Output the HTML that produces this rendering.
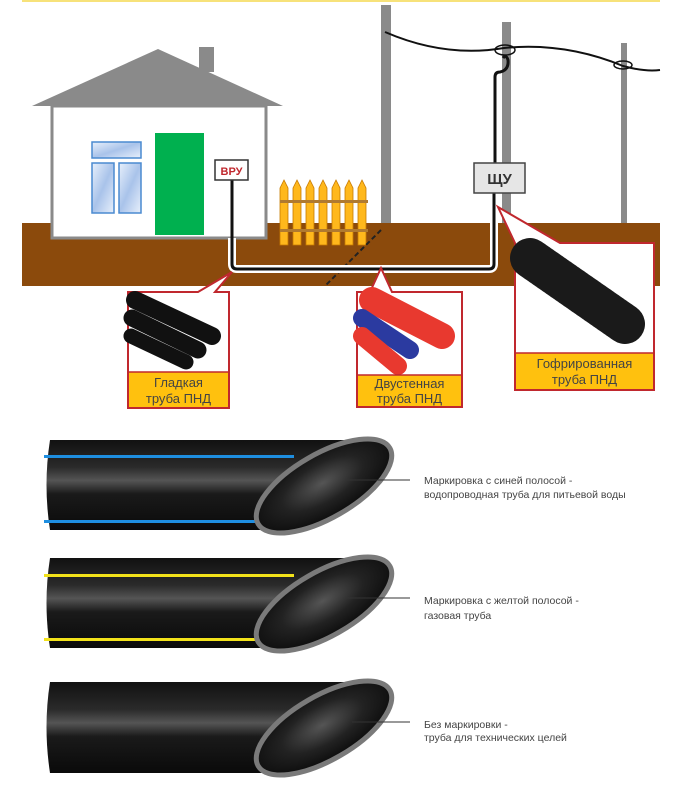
<!DOCTYPE html>
<html><head><meta charset="utf-8"><style>
html,body{margin:0;padding:0;background:#fff;width:676px;height:786px;overflow:hidden}
svg{display:block}
.lbl{font-family:"Liberation Sans","DejaVu Sans",sans-serif;font-size:13px;fill:#444;text-anchor:middle}
.t{font-family:"Liberation Sans","DejaVu Sans",sans-serif;font-size:10.5px;fill:#444}
</style></head><body>
<svg width="676" height="786" viewBox="0 0 676 786" xmlns="http://www.w3.org/2000/svg">
<defs>
<linearGradient id="pg" x1="0" y1="0" x2="0" y2="1">
<stop offset="0" stop-color="#111"/><stop offset="0.3" stop-color="#2a2a2a"/><stop offset="0.45" stop-color="#555"/><stop offset="0.6" stop-color="#1a1a1a"/><stop offset="1" stop-color="#0a0a0a"/>
</linearGradient>
<radialGradient id="ig" cx="0.5" cy="0.45" r="0.6">
<stop offset="0" stop-color="#555"/><stop offset="0.5" stop-color="#222"/><stop offset="1" stop-color="#080808"/>
</radialGradient>
<linearGradient id="wg" x1="0" y1="0" x2="1" y2="1"><stop offset="0" stop-color="#e8f0fb"/><stop offset=".5" stop-color="#a9c3ea"/><stop offset="1" stop-color="#e8f0fb"/></linearGradient>
</defs>
<rect x="22" y="0" width="638" height="2" fill="#f7e27a"/>
<!-- poles -->
<rect x="381" y="5" width="10" height="246" fill="#8a8a8a"/>
<rect x="502" y="22" width="9" height="202" fill="#8a8a8a"/>
<rect x="621" y="43" width="6" height="181" fill="#8a8a8a"/>
<path d="M385 32 Q445 58 504 48 Q565 42 623 66 Q645 72 660 70" fill="none" stroke="#111" stroke-width="2"/>
<ellipse cx="505" cy="50" rx="10" ry="5" fill="none" stroke="#111" stroke-width="1.5"/>
<ellipse cx="623" cy="65" rx="9" ry="4" fill="none" stroke="#111" stroke-width="1.5"/>
<!-- ground -->
<rect x="22" y="223" width="638" height="63" fill="#8b4a0c"/>
<!-- house -->
<rect x="52" y="106" width="214" height="132" fill="#fff" stroke="#8a8a8a" stroke-width="3"/>
<rect x="199" y="47" width="15" height="25" fill="#8a8a8a"/>
<polygon points="158,49 32,106 283,106" fill="#8a8a8a"/>
<rect x="92" y="142" width="49" height="16" fill="url(#wg)" stroke="#4a8ad0" stroke-width="1.5"/>
<rect x="92" y="163" width="22" height="50" fill="url(#wg)" stroke="#4a8ad0" stroke-width="1.5"/>
<rect x="119" y="163" width="22" height="50" fill="url(#wg)" stroke="#4a8ad0" stroke-width="1.5"/>
<rect x="155" y="133" width="49" height="102" fill="#00b04f"/>
<!-- fence -->
<g fill="#ffb81c" stroke="#c87a00" stroke-width="0.8">
<path d="M280 188 l4 -8 l4 8 v57 h-8z"/><path d="M293 188 l4 -8 l4 8 v57 h-8z"/><path d="M306 188 l4 -8 l4 8 v57 h-8z"/><path d="M319 188 l4 -8 l4 8 v57 h-8z"/><path d="M332 188 l4 -8 l4 8 v57 h-8z"/><path d="M345 188 l4 -8 l4 8 v57 h-8z"/><path d="M358 188 l4 -8 l4 8 v57 h-8z"/>
</g>
<rect x="280" y="200" width="88" height="3" fill="#b07a30"/><rect x="280" y="229" width="88" height="3" fill="#b07a30"/>
<!-- dashed -->
<line x1="381" y1="230" x2="325" y2="286" stroke="#222" stroke-width="2" stroke-dasharray="5,3"/>
<!-- cable -->
<path d="M232 238 V264 Q232 269 237 269 H489 Q494 269 494 264 V193" fill="none" stroke="#fff" stroke-width="8"/>
<path d="M232 180 V264 Q232 269 237 269 H489 Q494 269 494 264 V193" fill="none" stroke="#111" stroke-width="3"/>
<path d="M495 163 V77 Q495 72 500 72 Q509 70 508 60 Q506 54 503 58" fill="none" stroke="#111" stroke-width="3"/>
<rect x="215" y="160" width="33" height="20" fill="#fff" stroke="#333" stroke-width="1.5"/>
<text x="231.5" y="175" font-family="Liberation Sans,sans-serif" font-size="11" font-weight="bold" fill="#c0282e" text-anchor="middle">ВРУ</text>
<rect x="474" y="163" width="51" height="30" fill="#e6e6e6" stroke="#444" stroke-width="1.5"/>
<text x="499.5" y="184" font-family="Liberation Sans,sans-serif" font-size="15" font-weight="bold" fill="#333" text-anchor="middle">ЩУ</text>
<!-- callout 1 -->
<path d="M128 292 H198 L232 272 L215 292 H229 V408 H128Z" fill="#fff" stroke="#c0282e" stroke-width="2"/>
<g stroke="#111" stroke-linecap="round"><line x1="135" y1="300" x2="212" y2="336" stroke-width="18"/><line x1="132" y1="318" x2="198" y2="350" stroke-width="17"/><line x1="131" y1="336" x2="186" y2="362" stroke-width="15"/></g>
<rect x="129" y="372" width="99" height="35" fill="#ffc10e"/>
<line x1="129" y1="372" x2="228" y2="372" stroke="#c0282e" stroke-width="1.5"/>
<text class="lbl" x="178.5" y="387">Гладкая</text><text class="lbl" x="178.5" y="403">труба ПНД</text>
<!-- callout 2 -->
<path d="M357 292 H370 L381 268 L392 292 H462 V407 H357Z" fill="#fff" stroke="#c0282e" stroke-width="2"/>
<g stroke-linecap="round"><line x1="372" y1="300" x2="442" y2="336" stroke="#e8392f" stroke-width="26"/><line x1="362" y1="318" x2="410" y2="350" stroke="#2b3aa0" stroke-width="18"/><line x1="362" y1="336" x2="398" y2="366" stroke="#e8392f" stroke-width="18"/></g>
<rect x="358" y="375" width="103" height="31" fill="#ffc10e"/>
<line x1="358" y1="375" x2="461" y2="375" stroke="#c0282e" stroke-width="1.5"/>
<text class="lbl" x="409.5" y="388">Двустенная</text><text class="lbl" x="409.5" y="403">труба ПНД</text>
<!-- callout 3 -->
<path d="M515 243 L498 207 L560 243 H654 V390 H515Z" fill="#fff" stroke="#c0282e" stroke-width="2"/>
<line x1="530" y1="258" x2="625" y2="324" stroke="#1a1a1a" stroke-width="40" stroke-linecap="round" stroke-dasharray="2,1.2"/>
<rect x="516" y="353" width="137" height="36" fill="#ffc10e"/>
<line x1="516" y1="353" x2="653" y2="353" stroke="#c0282e" stroke-width="1.5"/>
<text class="lbl" x="584.5" y="368">Гофрированная</text><text class="lbl" x="584.5" y="384">труба ПНД</text>
<!-- bottom pipes -->
<g>
<path d="M50 440 H345 L300 530 H50 Q43 485 50 440Z" fill="url(#pg)"/>
<rect x="44" y="455" width="250" height="3" fill="#1e8ee0"/>
<rect x="44" y="520" width="220" height="3" fill="#1e8ee0"/>
<ellipse cx="324" cy="486" rx="76" ry="32" transform="rotate(-30 324 486)" fill="url(#ig)" stroke="#7a7a7a" stroke-width="5"/>
</g>
<g>
<path d="M50 558 H345 L300 648 H50 Q43 603 50 558Z" fill="url(#pg)"/>
<rect x="44" y="574" width="250" height="3" fill="#f2e21a"/>
<rect x="44" y="638" width="220" height="3" fill="#f2e21a"/>
<ellipse cx="324" cy="604" rx="76" ry="32" transform="rotate(-30 324 604)" fill="url(#ig)" stroke="#7a7a7a" stroke-width="5"/>
</g>
<g>
<path d="M50 682 H345 L300 773 H50 Q43 727 50 682Z" fill="url(#pg)"/>
<ellipse cx="324" cy="728" rx="76" ry="32" transform="rotate(-30 324 728)" fill="url(#ig)" stroke="#7a7a7a" stroke-width="5"/>
</g>
<g stroke="#333" stroke-width="1">
<line x1="346" y1="480" x2="410" y2="480"/><line x1="346" y1="598" x2="410" y2="598"/><line x1="352" y1="722" x2="410" y2="722"/>
</g>
<text class="t" x="424" y="484">Маркировка с синей полосой -</text>
<text class="t" x="424" y="498">водопроводная труба для питьевой воды</text>
<text class="t" x="424" y="604">Маркировка с желтой полосой -</text>
<text class="t" x="424" y="619">газовая труба</text>
<text class="t" x="424" y="728">Без маркировки -</text>
<text class="t" x="424" y="741">труба для технических целей</text>
</svg>
</body></html>
